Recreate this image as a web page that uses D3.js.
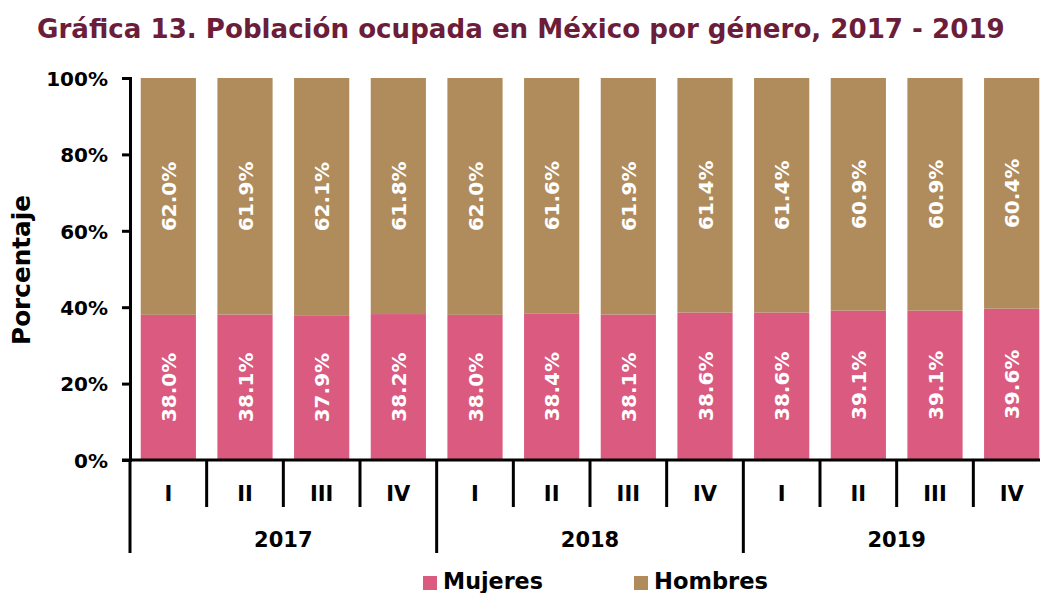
<!DOCTYPE html>
<html><head><meta charset="utf-8">
<script src="https://cdn.jsdelivr.net/npm/d3@7"></script>
<style>
html,body{margin:0;padding:0;background:#fff;}
svg{display:block;font-family:"DejaVu Sans",sans-serif;font-weight:bold;}
</style></head>
<body><svg id="c" width="1040" height="593"></svg>
<script>
const years = ["2017","2018","2019"];
const quarters = ["I","II","III","IV"];
const mujeres = [38.0,38.1,37.9,38.2,38.0,38.4,38.1,38.6,38.6,39.1,39.1,39.6];
const hombres = [62.0,61.9,62.1,61.8,62.0,61.6,61.9,61.4,61.4,60.9,60.9,60.4];
const yTicks = [0,20,40,60,80,100];
const seriesNames = ["Mujeres","Hombres"];
const colors = ["#DA5A80","#B08C5C"];

(function(){
const cats = [];
years.forEach(y => quarters.forEach(q => cats.push(y+"-"+q)));

const svg = d3.select("#c");
const pL = 130, pR = 1050, pT = 78, pB = 460;

function fit(sel, w){
  const cur = sel.node().getComputedTextLength();
  const fs = parseFloat(sel.attr("font-size"));
  sel.attr("font-size", fs * w / cur);
}

const title = svg.append("text").attr("x",37).attr("y",38).attr("font-size",26)
  .attr("fill","#6B1D3A").text("Gráfica 13. Población ocupada en México por género, 2017 - 2019");
fit(title, 968);

const x = d3.scaleBand().domain(cats).range([pL,pR]).paddingInner(0.28).paddingOuter(0.14);
const y = d3.scaleLinear().domain([0,100]).range([pB,pT]);

const stack = cats.map((c,i)=>({c, m: mujeres[i], h: hombres[i]}));
const g = svg.append("g");
stack.forEach(d=>{
  g.append("rect").attr("x",x(d.c)).attr("width",x.bandwidth())
    .attr("y",y(d.m)).attr("height",y(0)-y(d.m)).attr("fill",colors[0]);
  g.append("rect").attr("x",x(d.c)).attr("width",x.bandwidth())
    .attr("y",y(d.m+d.h)).attr("height",y(d.m)-y(d.m+d.h)).attr("fill",colors[1]);
  [[0,d.m],[d.m,d.m+d.h]].forEach(([a,b],k)=>{
    const val = k===0?d.m:d.h;
    const cx = x(d.c)+x.bandwidth()/2, cy = (y(a)+y(b))/2;
    g.append("text").attr("transform",`translate(${cx+7.5},${cy}) rotate(-90)`)
      .attr("text-anchor","middle").attr("font-size",20).attr("fill","#fff")
      .text(val.toFixed(1)+"%");
  });
});

const yAxis = svg.append("g").attr("transform",`translate(${pL},0)`)
  .call(d3.axisLeft(y).tickValues(yTicks).tickFormat(d=>d+"%").tickSize(8).tickPadding(14));
yAxis.select(".domain").attr("stroke","#000").attr("stroke-width",3);
yAxis.selectAll(".tick line").attr("stroke","#000").attr("stroke-width",3);
yAxis.selectAll(".tick text").attr("font-size",20).attr("font-family","DejaVu Sans")
  .attr("font-weight","bold").attr("fill","#000").attr("dy","0.36em");

const yt = svg.append("text").attr("transform","translate(30,270) rotate(-90)").attr("text-anchor","middle")
  .attr("font-size",22).attr("fill","#000").text("Porcentaje");
fit(yt, 150);

svg.append("line").attr("x1",pL-8).attr("x2",pR).attr("y1",pB).attr("y2",pB)
  .attr("stroke","#000").attr("stroke-width",3);

const step = x.step();
const edge = i => pL + i*step;
cats.forEach((c,i)=>{
  if(i%4!==0) svg.append("line").attr("x1",edge(i)).attr("x2",edge(i)).attr("y1",pB).attr("y2",507)
    .attr("stroke","#000").attr("stroke-width",3);
  svg.append("text").attr("x",x(c)+x.bandwidth()/2).attr("y",501).attr("text-anchor","middle")
    .attr("font-size",21).attr("fill","#000").text(c.split("-")[1]);
});
years.forEach((yr,j)=>{
  svg.append("line").attr("x1",edge(j*4)).attr("x2",edge(j*4)).attr("y1",pB).attr("y2",553)
    .attr("stroke","#000").attr("stroke-width",3);
  svg.append("text").attr("x",(edge(j*4)+edge(j*4+4))/2).attr("y",547).attr("text-anchor","middle")
    .attr("font-size",21).attr("fill","#000").text(yr);
});

const legX = [423,634];
const legW = [100,114];
seriesNames.forEach((n,i)=>{
  svg.append("rect").attr("x",legX[i]).attr("y",576).attr("width",14).attr("height",14).attr("fill",colors[i]);
  const t = svg.append("text").attr("x",legX[i]+20).attr("y",589).attr("font-size",20).attr("fill","#000").text(n);
  fit(t, legW[i]);
});
})();
</script></body></html>
